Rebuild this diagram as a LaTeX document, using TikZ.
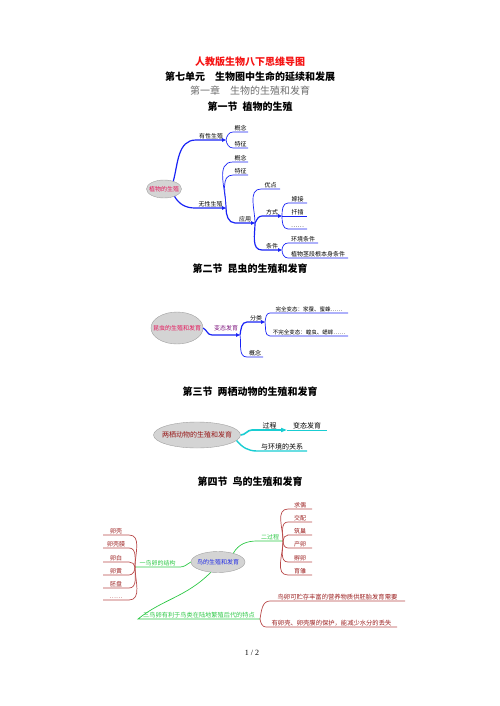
\documentclass[tikz,border=0pt]{standalone}
\usepackage{fontspec}
\setmainfont{Noto Sans CJK SC}
\newfontfamily\pagefont{Liberation Serif}
\usepackage{xcolor}
\definecolor{titlered}{RGB}{245, 20, 20}
\definecolor{chaptergrey}{RGB}{110, 110, 110}
\definecolor{mapblue}{RGB}{25, 35, 245}
\definecolor{bubblegrey}{RGB}{212, 212, 212}
\definecolor{bubbleedge}{RGB}{160, 160, 160}
\definecolor{rosered}{RGB}{230, 20, 90}
\definecolor{deepred}{RGB}{150, 20, 20}
\definecolor{metapurple}{RGB}{125, 20, 125}
\definecolor{frogcyan}{RGB}{25, 205, 210}
\definecolor{birdgreen}{RGB}{45, 200, 70}
\definecolor{fanred}{RGB}{185, 75, 75}
\definecolor{fantext}{RGB}{155, 30, 30}
\definecolor{birdblue}{RGB}{30, 40, 230}
\usepackage{tikz}
\usetikzlibrary{arrows.meta, shapes.geometric}

\tikzset{
  bubble/.style={ellipse, draw=bubbleedge, fill=bubblegrey, inner sep=0pt},
  tag/.style={font=\fontsize{6}{7}\selectfont, inner sep=0pt},
  leaf/.style={tag, anchor=south west, minimum width=#1, inner ysep=1.2pt, outer sep=0pt},
  stem/.style={line width=1.2pt},
  twig/.style={line width=0.7pt},
  knot/.style={-{Triangle[length=4pt, width=3.5pt]}},
  headline/.style={font=\fontsize{10}{12}\selectfont\bfseries, inner sep=0pt},
}

\begin{document}
\begin{tikzpicture}[x=1pt, y=-1pt]
  \useasboundingbox (0,0) rectangle (500,706);

  % HEADINGS - top
  \node[headline, text=titlered] (booktitle) at (250,62) {人教版生物八下思维导图};
  \node[headline] (unit) at (250,77) {第七单元　生物圈中生命的延续和发展};
  \node[font=\fontsize{10}{12}\selectfont, text=chaptergrey, inner sep=0pt] (chapter) at (250,91) {第一章　生物的生殖和发育};
  \node[headline] (sec1) at (250,107) {第一节\hspace{0.5em}植物的生殖};

  % SECTION 1 - plants
  \node[bubble, minimum width=35pt, minimum height=18pt] (plant) at (164,189) {};
  \node[tag, text=rosered] (plantname) at (plant) {植物的生殖};

  \node[leaf=30pt] (sex) at (196,140) {有性生殖};
  \node[leaf=15pt] (sexidea) at (233,132) {概念};
  \node[leaf=15pt] (sextrait) at (233,148) {特征};
  \draw[mapblue, stem, knot] (plant.40) to[out=75, in=180] (sex.south west) -- (sex.south east);
  \draw[mapblue, twig] (sex.south east) to[out=80, in=180] (sexidea.south west) -- (sexidea.south east);
  \draw[mapblue, twig] (sex.south east) to[out=-80, in=180] (sextrait.south west) -- (sextrait.south east);

  \node[leaf=31pt] (asex) at (195,208) {无性生殖};
  \node[leaf=15pt] (asexidea) at (233,162) {概念};
  \node[leaf=15pt] (asextrait) at (233,175) {特征};
  \node[leaf=20pt] (use) at (235,223) {应用};
  \draw[mapblue, stem, knot] (plant.-35) to[out=-60, in=180] (asex.south west) -- (asex.south east);
  \draw[mapblue, twig] (asex.south east) to[out=90, in=180] (asexidea.south west) -- (asexidea.south east);
  \draw[mapblue, twig] (asex.south east) to[out=90, in=180] (asextrait.south west) -- (asextrait.south east);
  \draw[mapblue, stem, knot] (asex.south east) to[out=-90, in=180] (use.south west) -- (use.south east);

  \node[leaf=19pt] (merit) at (261,189) {优点};
  \node[leaf=20pt] (way) at (262,216) {方式};
  \node[leaf=20pt] (cond) at (262,250) {条件};
  \draw[mapblue, twig] (use.south east) to[out=90, in=180] (merit.south west) -- (merit.south east);
  \draw[mapblue, stem, knot] (use.south east) to[out=60, in=180] (way.south west) -- (way.south east);
  \draw[mapblue, stem, knot] (use.south east) to[out=-90, in=180] (cond.south west) -- (cond.south east);

  \node[leaf=19pt] (graft) at (288,203) {嫁接};
  \node[leaf=19pt] (cutting) at (288,216) {扦插};
  \node[leaf=19pt] (wayetc) at (288,229) {……};
  \draw[mapblue, twig] (way.south east) to[out=90, in=180] (graft.south west) -- (graft.south east);
  \draw[mapblue, twig] (way.south east) -- (cutting.south east);
  \draw[mapblue, twig] (way.south east) to[out=-90, in=180] (wayetc.south west) -- (wayetc.south east);

  \node[leaf=30pt] (envcond) at (288,243) {环境条件};
  \node[leaf=60pt] (selfcond) at (288,258) {植物茎段根本身条件};
  \draw[mapblue, twig] (cond.south east) to[out=90, in=180] (envcond.south west) -- (envcond.south east);
  \draw[mapblue, twig] (cond.south east) to[out=-90, in=180] (selfcond.south west) -- (selfcond.south east);

  % SECTION 2 - insects
  \node[headline] (sec2) at (250,269) {第二节\hspace{0.5em}昆虫的生殖和发育};

  \node[bubble, minimum width=52pt, minimum height=32pt] (insect) at (177,328) {};
  \node[tag, text=rosered] (insectname) at (insect) {昆虫的生殖和发育};

  \node[leaf=28pt, text=metapurple, inner ysep=4pt] (meta) at (212,335) {变态发育};
  \node[leaf=18pt] (kind) at (247,322) {分类};
  \node[leaf=16pt] (metaidea) at (247,357) {概念};
  \draw[mapblue, stem, knot] (insect.east) to[out=-30, in=180] (meta.south west) -- (meta.south east);
  \draw[mapblue, stem, knot] (meta.south east) to[out=80, in=180] (kind.south west) -- (kind.south east);
  \draw[mapblue, twig] (meta.south east) to[out=-80, in=180] (metaidea.south west) -- (metaidea.south east);

  \node[leaf=78pt, font=\fontsize{5.5}{6.5}\selectfont] (fullmeta) at (270,313) {完全变态：家蚕、蜜蜂……};
  \node[leaf=78pt, font=\fontsize{5.5}{6.5}\selectfont] (partmeta) at (270,336) {不完全变态：蝗虫、蟋蟀……};
  \draw[mapblue, twig] (kind.south east) to[out=80, in=180] (fullmeta.south west) -- (fullmeta.south east);
  \draw[mapblue, twig] (kind.south east) to[out=-80, in=180] (partmeta.south west) -- (partmeta.south east);

  % SECTION 3 - amphibians
  \node[headline] (sec3) at (250,392) {第三节\hspace{0.5em}两栖动物的生殖和发育};

  \node[bubble, minimum width=87pt, minimum height=26pt] (amph) at (197,435) {};
  \node[tag, font=\fontsize{7}{8}\selectfont, text=deepred] (amphname) at (amph) {两栖动物的生殖和发育};

  \node[leaf=35pt, font=\fontsize{7}{8}\selectfont] (process) at (252,430) {过程};
  \node[leaf=40pt, font=\fontsize{7}{8}\selectfont] (frogmeta) at (287,430) {变态发育};
  \node[leaf=50pt, font=\fontsize{7}{8}\selectfont] (habitat) at (257,451) {与环境的关系};
  \draw[frogcyan, line width=1.6pt, -{Triangle[length=6pt, width=4pt]}] (amph.east) to[out=0, in=180] (process.south west) -- (process.south east);
  \draw[frogcyan, twig] (process.south east) -- (frogmeta.south east);
  \draw[frogcyan, line width=1.4pt] (amph.-8) to[out=-50, in=180] (habitat.south west) -- (habitat.south east);

  % SECTION 4 - birds
  \node[headline] (sec4) at (250,482) {第四节\hspace{0.5em}鸟的生殖和发育};

  \node[bubble, minimum width=54pt, minimum height=21pt] (bird) at (218,562) {};
  \node[tag, text=birdblue] (birdname) at (bird) {鸟的生殖和发育};

  % two: process
  \node[leaf=26pt, text=birdgreen] (stages) at (257,541) {二过程};
  \draw[birdgreen, twig] (bird.30) to[out=60, in=180] (stages.south west) -- (stages.south east);

  \node[leaf=24pt, text=fantext] (court) at (288,509) {求偶};
  \node[leaf=24pt, text=fantext] (mate) at (288,522) {交配};
  \node[leaf=24pt, text=fantext] (nest) at (288,535) {筑巢};
  \node[leaf=24pt, text=fantext] (lay) at (288,548) {产卵};
  \node[leaf=24pt, text=fantext] (hatch) at (288,562) {孵卵};
  \node[leaf=24pt, text=fantext] (rear) at (288,575) {育雏};
  \draw[fanred, twig] (stages.south east) to[out=90, in=180] (court.south west) -- (court.south east);
  \draw[fanred, twig] (stages.south east) to[out=90, in=180] (mate.south west) -- (mate.south east);
  \draw[fanred, twig] (stages.south east) to[out=90, in=180] (nest.south west) -- (nest.south east);
  \draw[fanred, twig] (stages.south east) to[out=-90, in=180] (lay.south west) -- (lay.south east);
  \draw[fanred, twig] (stages.south east) to[out=-90, in=180] (hatch.south west) -- (hatch.south east);
  \draw[fanred, twig] (stages.south east) to[out=-90, in=180] (rear.south west) -- (rear.south east);

  % one: egg structure
  \node[leaf=45pt, text=birdgreen] (egg) at (135,567) {一鸟卵的结构};
  \draw[birdgreen, twig] (bird.west) to[out=-150, in=0] (egg.south east) -- (egg.south west);

  \node[leaf=26pt, text=fantext] (shell) at (103,535) {卵壳};
  \node[leaf=26pt, text=fantext] (membrane) at (103,548) {卵壳膜};
  \node[leaf=26pt, text=fantext] (white) at (103,562) {卵白};
  \node[leaf=26pt, text=fantext] (yolk) at (103,575) {卵黄};
  \node[leaf=26pt, text=fantext] (disc) at (103,588) {胚盘};
  \node[leaf=26pt, text=fantext] (eggetc) at (103,600) {……};
  \draw[fanred, twig] (egg.south west) to[out=90, in=0] (shell.south east) -- (shell.south west);
  \draw[fanred, twig] (egg.south west) to[out=90, in=0] (membrane.south east) -- (membrane.south west);
  \draw[fanred, twig] (egg.south west) to[out=90, in=0] (white.south east) -- (white.south west);
  \draw[fanred, twig] (egg.south west) to[out=-90, in=0] (yolk.south east) -- (yolk.south west);
  \draw[fanred, twig] (egg.south west) to[out=-90, in=0] (disc.south east) -- (disc.south west);
  \draw[fanred, twig] (egg.south west) to[out=-90, in=0] (eggetc.south east) -- (eggetc.south west);

  % three: traits on land
  \node[leaf=122pt, text=birdgreen, font=\fontsize{6.2}{7}\selectfont] (land) at (138,619) {三鸟卵有利于鸟类在陆地繁殖后代的特点};
  \draw[birdgreen, twig] (bird.235) .. controls +(-25,25) and +(25,-20) .. (land.south west) -- (land.south east);

  \node[leaf=135pt, text=fantext, font=\fontsize{6.3}{7}\selectfont] (store) at (270,601) {鸟卵可贮存丰富的营养物质供胚胎发育需要};
  \node[leaf=131pt, text=fantext, font=\fontsize{6.3}{7}\selectfont] (shield) at (266,627) {有卵壳、卵壳膜的保护，能减少水分的丢失};
  \draw[fanred, twig] (land.south east) to[out=80, in=180] (store.south west) -- (store.south east);
  \draw[fanred, twig] (land.south east) to[out=-80, in=180] (shield.south west) -- (shield.south east);

  % page number
  \node[font=\pagefont\fontsize{8}{9}\selectfont, inner sep=0pt] (pageno) at (252,653) {1 / 2};

\end{tikzpicture}
\end{document}
